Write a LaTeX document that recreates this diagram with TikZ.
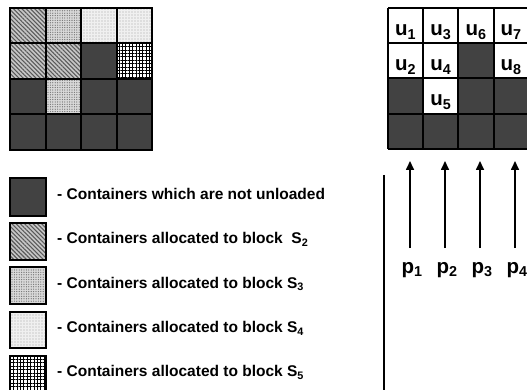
\documentclass[tikz,border=0pt]{standalone}
\usepackage{fontspec}
\setmainfont{Liberation Sans}
\usetikzlibrary{patterns.meta,arrows.meta}
\begin{document}
\begin{tikzpicture}[x=1pt,y=-1pt,
  gridline/.style={line width=2pt,black},
  dark/.style={fill=black!74},
  stwo/.style={fill=gray!45,postaction={pattern={Lines[angle=-45,distance=3pt,line width=1.1pt]},pattern color=black!65}},
  sthree/.style={fill=gray!30,postaction={pattern={Dots[distance=2.4pt,radius=0.65pt]},pattern color=black!55}},
  sfour/.style={fill=gray!12,postaction={pattern={Dots[distance=3pt,radius=0.55pt]},pattern color=black!35}},
  sfive/.style={fill=white,postaction={pattern={Hatch[angle=0,distance=3.4pt,line width=0.75pt]},pattern color=black}},
  free/.style={fill=white},
  legtext/.style={anchor=mid west,inner sep=0pt,font=\bfseries\fontsize{15.5}{18}\selectfont},
  ulab/.style={anchor=base,inner sep=0pt,font=\bfseries\fontsize{20.5}{24}\selectfont},
  arr/.style={line width=1.6pt,-{Triangle[length=9pt,width=8pt]}}]
\useasboundingbox (0,0) rectangle (527,390);
\clip (0,0) rectangle (527,390);

% ---------- left grid ----------
\def\cs{35.5}
\foreach \r/\c/\s in {0/0/stwo,0/1/sthree,0/2/sfour,0/3/sfour,
                      1/0/stwo,1/1/stwo,1/2/dark,1/3/sfive,
                      2/0/dark,2/1/sthree,2/2/dark,2/3/dark,
                      3/0/dark,3/1/dark,3/2/dark,3/3/dark}
  \path[\s] ({10+\cs*\c},{8+\cs*\r}) rectangle ++(\cs,\cs);
\foreach \k in {0,...,4}{
  \draw[gridline] ({10+\cs*\k},8) -- ({10+\cs*\k},150);
  \draw[gridline] (10,{8+\cs*\k}) -- (152,{8+\cs*\k});
}
\draw[gridline] (10,8) rectangle (152,150);

% ---------- legend ----------
\path[dark]   (10,178) rectangle (46,216);
\path[stwo]   (10,223) rectangle (46,260);
\path[sthree] (10,267) rectangle (46,304);
\path[sfour]  (10,312) rectangle (46,348);
\path[sfive]  (10,356) rectangle (46,394);
\draw[line width=1.8pt] (10,178) rectangle (46,216);
\draw[line width=1.8pt] (10,223) rectangle (46,260);
\draw[line width=1.8pt] (10,267) rectangle (46,304);
\draw[line width=1.8pt] (10,312) rectangle (46,348);
\draw[line width=1.8pt] (10,356) rectangle (46,394);
\node[legtext] (l1) at (57,196.5) {- Containers which are not unloaded};
\node[legtext] (l2) at (57,241) {- Containers allocated to block\ \ S\textsubscript{2}};
\node[legtext] (l3) at (57,285.5) {- Containers allocated to block S\textsubscript{3}};
\node[legtext] (l4) at (57,330) {- Containers allocated to block S\textsubscript{4}};
\node[legtext] (l5) at (57,374) {- Containers allocated to block S\textsubscript{5}};

% ---------- right grid ----------
\def\ds{35.2}
\foreach \r/\c/\s in {0/0/free,0/1/free,0/2/free,0/3/free,
                      1/0/free,1/1/free,1/2/dark,1/3/free,
                      2/0/dark,2/1/free,2/2/dark,2/3/dark,
                      3/0/dark,3/1/dark,3/2/dark,3/3/dark}
  \path[\s] ({388+\ds*\c},{8+\ds*\r}) rectangle ++(\ds,\ds);
\foreach \k in {0,...,4}{
  \draw[gridline] ({388+\ds*\k},8) -- ({388+\ds*\k},148.8);
  \draw[gridline] (388,{8+\ds*\k}) -- (528.8,{8+\ds*\k});
}
\node[ulab] (u1) at ({388+0.5*\ds},36) {u\textsubscript{1}};
\node[ulab] (u3) at ({388+1.5*\ds},36) {u\textsubscript{3}};
\node[ulab] (u6) at ({388+2.5*\ds},36) {u\textsubscript{6}};
\node[ulab] (u7) at ({388+3.5*\ds},36) {u\textsubscript{7}};
\node[ulab] (u2) at ({388+0.5*\ds},71) {u\textsubscript{2}};
\node[ulab] (u4) at ({388+1.5*\ds},71) {u\textsubscript{4}};
\node[ulab] (u8) at ({388+3.5*\ds},71) {u\textsubscript{8}};
\node[ulab] (u5) at ({388+1.5*\ds},106) {u\textsubscript{5}};

% ---------- arrows ----------
\draw[line width=1.6pt] (384,175) -- (384,392);
\foreach \i/\x in {1/410,2/445,3/480,4/515}{
  \coordinate (b\i) at (\x,248);
  \coordinate (t\i) at (\x,161);
  \draw[arr] (b\i) -- (t\i);
  \node[ulab] (p\i) at (\x+2,273) {p\textsubscript{\i}};
}
\end{tikzpicture}
\end{document}
